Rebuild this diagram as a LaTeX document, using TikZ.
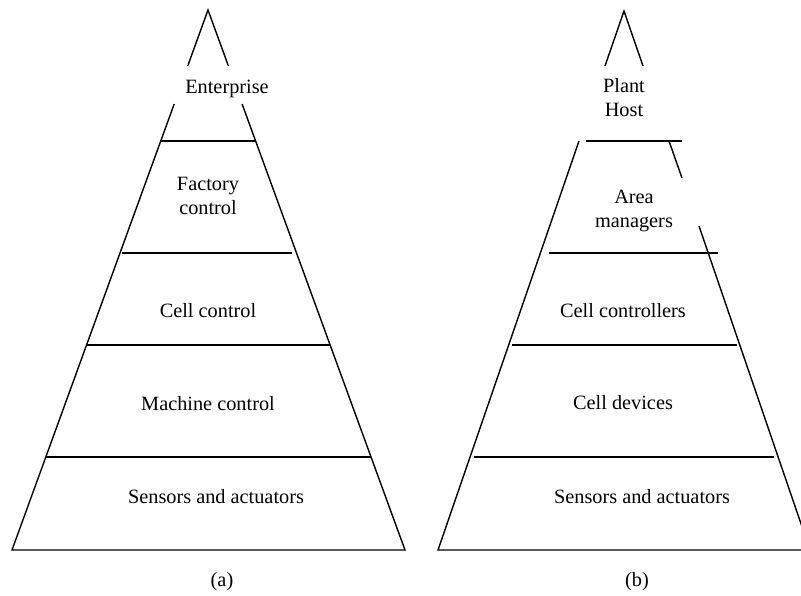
\documentclass[tikz,border=0pt]{standalone}
\usepackage{fontspec}
\setmainfont{Liberation Serif}
\begin{document}
\begin{tikzpicture}[x=1pt,y=-1pt,
  edge/.style={line width=1.4pt, line cap=butt},
  lbl/.style={inner sep=0pt, anchor=base, align=center, font=\fontsize{20.3}{24}\selectfont}]
\useasboundingbox (0,0) rectangle (801,596);
\clip (0,0) rectangle (801,596);
% ---------- left pyramid (a) ----------
\coordinate (aA) at (208,10);
\coordinate (aL) at (12,550);
\coordinate (aR) at (405,550);
\draw[edge] (187.7,66) -- (aA) -- (228.4,66);
\draw[edge] (174.2,104) -- (aL) -- (aR) -- (242.1,104);
\draw[edge] (161,141) -- (255,141);
\draw[edge] (122,253) -- (292,253);
\draw[edge] (87,345) -- (330,345);
\draw[edge] (46,457) -- (371,457);
\node[lbl] (ent) at (227,94) {Enterprise};
\node[lbl] (fac) at (208,215) {Factory\\control};
\node[lbl] (cell) at (208,317) {Cell control};
\node[lbl] (mach) at (208,410) {Machine control};
\node[lbl] (sensa) at (216,503) {Sensors and actuators};
\node[lbl] (capa) at (222,586) {(a)};
% ---------- right pyramid (b) ----------
\coordinate (bA) at (624,11);
\coordinate (bL) at (438,550);
\coordinate (bR) at (810,550);
\draw[edge] (605,66) -- (bA) -- (643,66);
\draw[edge] (579,141) -- (bL) -- (bR) -- (699,226);
\draw[edge] (669,141) -- (682,178);
\draw[edge] (586,141) -- (682,141);
\draw[edge] (549,253) -- (718,253);
\draw[edge] (512,345) -- (737,345);
\draw[edge] (474,457) -- (774,457);
\node[lbl] (plant) at (624,117) {Plant\\Host};
\node[lbl] (area) at (634,228) {Area\\managers};
\node[lbl] (cellc) at (623,317) {Cell controllers};
\node[lbl] (celld) at (623,409) {Cell devices};
\node[lbl] (sensb) at (642,503) {Sensors and actuators};
\node[lbl] (capb) at (637,586) {(b)};
\end{tikzpicture}
\end{document}
